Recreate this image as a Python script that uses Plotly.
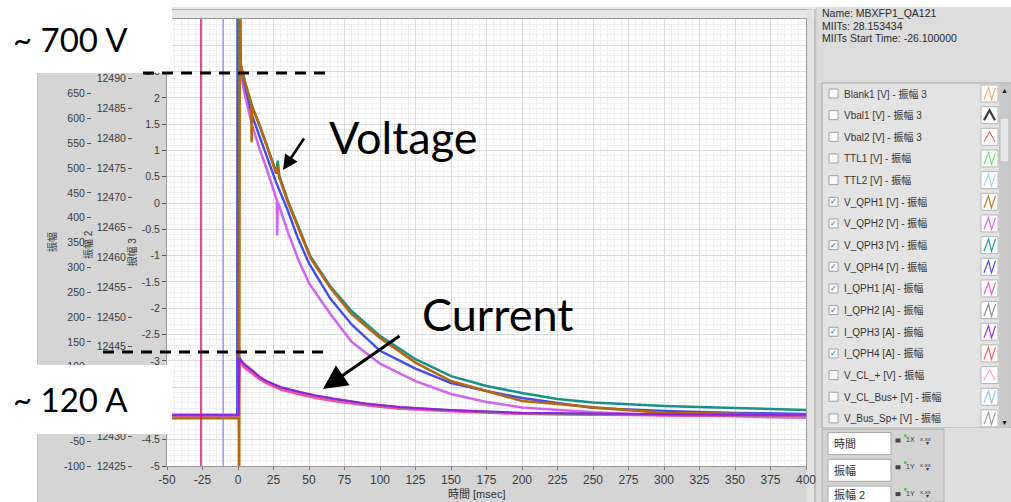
import plotly.graph_objects as go

W, H = 1011, 502


def px(x):
    return x / W


def py(y):
    return 1 - y / H


FONT = "Liberation Sans, Noto Sans CJK JP, sans-serif"
BIG = "Lato, Open Sans, sans-serif"

# ---------------- data ----------------
x_ticks = [-50, -25, 0, 25, 50, 75, 100, 125, 150, 175, 200, 225, 250, 275, 300, 325, 350, 375, 400]
amp_ticks = [-100, -50, 0, 50, 100, 150, 200, 250, 300, 350, 400, 450, 500, 550, 600, 650, 700, 750, 800]
amp2_ticks = [12425, 12430, 12435, 12440, 12445, 12450, 12455, 12460, 12465, 12470, 12475, 12480,
              12485, 12490, 12495, 12500]
amp3_ticks = [-5, -4.5, -4, -3.5, -3, -2.5, -2, -1.5, -1, -0.5, 0, 0.5, 1, 1.5, 2, 2.5, 3, 3.5]
# labels that sit completely under the white slide boxes in the reference (per axis)
amp_covered = [700, 750, 800, 0, 50]
amp2_covered = [12495, 12500, 12435, 12440]
amp3_covered = [3, 3.5, -3.5, -4]

cursor_times = [-26.1, -10.5]
cursor_colors = ["#d8157d", "#7468e6"]

# Voltages [V]
t_vqph2 = [-50, -0.3, 0.2, 1.2, 2, 5, 10, 15, 20, 27.3, 27.6, 28, 35, 42, 50, 65, 80, 100, 125, 150, 175,
           200, 250, 300, 350, 400]
v_vqph2 = [-3, -3, 950, 700, 690, 645, 585, 540, 500, 436, 364, 432, 372, 319, 268, 206, 150, 106, 71, 45,
           29, 18, 8, 2, 0, -3]

t_vqph4 = [-50, -0.5, -0.3, 1.2, 2, 5, 10, 15, 20, 27, 35, 42, 50, 65, 80, 100, 125, 150, 175, 200, 250,
           300, 350, 400]
v_vqph4 = [-2, -2, 950, 712, 700, 665, 605, 565, 525, 470, 415, 360, 308, 237, 185, 132, 96, 67, 51, 37, 17,
           11, 7, 5]

t_vqph3 = [-50, 0.4, 0.7, 1.5, 2, 5, 10, 15, 20, 27, 28, 29, 35, 42, 51, 65, 80, 100, 125, 150, 175, 200,
           225, 250, 300, 350, 400]
v_vqph3 = [-3, -3, 950, 712, 704, 672, 624, 586, 548, 490, 515, 485, 435, 386, 322, 262, 212, 162, 115, 81,
           61, 47, 35, 28, 21, 17, 13]

t_vqph1 = [-50, 0.6, 0.8, 1.3, 1.8, 2.2, 5, 9.5, 9.6, 9.8, 15, 20, 27, 28, 29, 35, 42, 51, 65, 80, 100, 125,
           150, 175, 200, 225, 250, 300, 350, 400]
v_vqph1 = [-4, -4, -220, 950, 715, 706, 672, 626, 552, 624, 588, 548, 489, 505, 482, 432, 383, 319, 259, 206,
           158, 108, 71, 51, 31, 25, 18, 7, 5, 3]

# Currents [A]
t_i = [-50, 0.5, 0.9, 1.4, 3, 5, 10, 15, 20, 30, 44, 55, 67, 90, 114, 150, 200, 250, 300, 350, 400]
i_qph4 = [1, 1, 112, 110, 104, 98, 87, 76, 68, 55, 45, 38, 32, 23, 16, 11, 5, 3, 2, 1, 1]
i_qph1 = [0, 0, 110, 108, 103, 97, 86, 75, 67, 54, 44, 37, 31, 22, 15, 10, 5, 3, 2, 1, 1]
i_qph2 = [2, 2, 120, 116, 110, 104, 93, 80, 71, 58, 48, 41, 35, 25, 18, 12, 6, 4, 3, 2, 2]
i_qph3 = [3, 3, 118, 115, 109, 103, 92, 80, 71, 59, 49, 42, 36, 26, 19, 13, 7, 5, 4, 3, 3]

# Channel list panel
legend_names = ["Blank1 [V] - 振幅 3", "Vbal1 [V] - 振幅 3", "Vbal2 [V] - 振幅 3", "TTL1 [V] - 振幅",
                "TTL2 [V] - 振幅", "V_QPH1 [V] - 振幅", "V_QPH2 [V] - 振幅", "V_QPH3 [V] - 振幅",
                "V_QPH4 [V] - 振幅", "I_QPH1 [A] - 振幅", "I_QPH2 [A] - 振幅", "I_QPH3 [A] - 振幅",
                "I_QPH4 [A] - 振幅", "V_CL_+ [V] - 振幅", "V_CL_Bus+ [V] - 振幅", "V_Bus_Sp+ [V] - 振幅"]
legend_checked = [0, 0, 0, 0, 0, 1, 1, 1, 1, 1, 1, 1, 1, 0, 0, 0]
legend_colors = ["#f2b07e", "#3a3a3a", "#f06868", "#7de07d", "#a8d4f4", "#c8741e", "#e060f0", "#20a090",
                 "#5050f0", "#ff5cb0", "#8a8a8a", "#a030e0", "#ff5a5a", "#ff9ad6", "#98c6f2", "#9a9a9a"]
legend_icon = ["N", "^", "^", "N", "N", "N", "N", "N", "N", "N", "N", "N", "N", "^", "N", "N"]

info_lines = ["Name: MBXFP1_QA121", "MIITs: 28.153434", "MIITs Start Time: -26.100000"]
axis_boxes = ["時間", "振幅", "振幅 2"]


def labels(vals, covered):
    return ["" if v in covered else "%g" % v for v in vals]


# ---------------- figure ----------------
fig = go.Figure()

# empty traces so that the two scale-only axes get drawn
fig.add_trace(go.Scatter(x=[], y=[], yaxis="y", showlegend=False, hoverinfo="skip"))
fig.add_trace(go.Scatter(x=[], y=[], yaxis="y2", showlegend=False, hoverinfo="skip"))


def add_series(t, v, color, width):
    fig.add_trace(go.Scatter(x=t, y=v, mode="lines", yaxis="y3", line=dict(color=color, width=width),
                             showlegend=False, hoverinfo="skip"))


add_series(t_vqph2, v_vqph2, "#d462f2", 2.5)
add_series(t_vqph4, v_vqph4, "#3f4cf0", 2.4)
add_series(t_vqph3, v_vqph3, "#14918a", 2.5)
add_series(t_vqph1, v_vqph1, "#b8660f", 2.6)
add_series(t_i, i_qph4, "#ff5a5a", 2.2)
add_series(t_i, i_qph1, "#ff4aa8", 2.4)
add_series(t_i, i_qph2, "#7a7a7a", 2.2)
add_series(t_i, i_qph3, "#8e22e0", 2)

tickfont = dict(family=FONT, size=10.5, color="#3a3a3a")

fig.update_layout(
    template="none",
    width=W, height=H, autosize=False,
    margin=dict(l=0, r=0, t=0, b=0, pad=0),
    paper_bgcolor="#d5d5d5", plot_bgcolor="#ffffff",
    showlegend=False,
    xaxis=dict(domain=[px(167), px(806)], range=[-50, 400], anchor="y", automargin=False,
               tickmode="array", tickvals=x_ticks, ticktext=[str(v) for v in x_ticks],
               ticks="outside", ticklen=3, tickcolor="#777",
               tickfont=dict(family=FONT, size=12, color="#3a3a3a"),
               showgrid=True, gridcolor="#dadada", gridwidth=1,
               minor=dict(tickmode="linear", tick0=0, dtick=5, showgrid=True, gridcolor="#efefef", ticks=""),
               showline=True, linecolor="#9a9a9a", mirror=True, zeroline=False),
    yaxis=dict(domain=[py(466), py(19)], range=[-5, 3.5], anchor="x", side="left", automargin=False,
               tickmode="array", tickvals=amp3_ticks, ticktext=labels(amp3_ticks, amp3_covered),
               ticks="outside", ticklen=4, tickcolor="#555", tickfont=tickfont,
               showgrid=True, gridcolor="#dadada",
               minor=dict(tickmode="linear", tick0=0, dtick=0.1, showgrid=True, gridcolor="#f0f0f0", ticks=""),
               showline=True, linecolor="#9a9a9a", mirror=True, zeroline=False),
    yaxis2=dict(range=[12425, 12500], overlaying="y", anchor="free", position=px(132), side="left",
                automargin=False,
                tickmode="array", tickvals=amp2_ticks, ticktext=labels(amp2_ticks, amp2_covered),
                ticks="outside", ticklen=4, tickcolor="#555", tickfont=tickfont,
                showgrid=False, zeroline=False, showline=False),
    yaxis3=dict(range=[-100, 800], overlaying="y", anchor="free", position=px(91), side="left",
                automargin=False,
                tickmode="array", tickvals=amp_ticks, ticktext=labels(amp_ticks, amp_covered),
                ticks="outside", ticklen=4, tickcolor="#555", tickfont=tickfont,
                showgrid=False, zeroline=False, showline=False),
)

shapes = []
ann = []


def rect(x0, y0, x1, y1, fill, line=None, lw=0, layer="above"):
    shapes.append(dict(type="rect", xref="paper", yref="paper", x0=px(x0), x1=px(x1), y0=py(y1), y1=py(y0),
                       fillcolor=fill, line=dict(color=line or fill, width=lw), layer=layer))


def hline(x0, x1, y, color, w=1, dash="solid", layer="above"):
    shapes.append(dict(type="line", xref="paper", yref="paper", x0=px(x0), x1=px(x1), y0=py(y), y1=py(y),
                       line=dict(color=color, width=w, dash=dash), layer=layer))


def vline(x, y0, y1, color, w=1, layer="above"):
    shapes.append(dict(type="line", xref="paper", yref="paper", x0=px(x), x1=px(x), y0=py(y0), y1=py(y1),
                       line=dict(color=color, width=w), layer=layer))


def text(x, y, s, size=10.5, color="#333", xanchor="left", family=FONT, angle=0):
    ann.append(dict(x=px(x), y=py(y), xref="paper", yref="paper", text=s, showarrow=False,
                    xanchor=xanchor, yanchor="middle", textangle=angle,
                    font=dict(family=family, size=size, color=color)))


# white slide background outside the screenshot
rect(0, 0, 37, 502, "#ffffff", layer="below")
rect(0, 0, 1011, 7, "#ffffff", layer="below")
vline(37.5, 7, 502, "#bdbdbd", layer="below")

# graph frame top bar and right bezel
rect(168, 7, 816, 18.5, "#e6e6e6", layer="below")
hline(168, 812, 9.5, "#b0b0b0", layer="below")
rect(806.5, 9.5, 814, 502, "#e2e2e2", layer="below")
vline(815, 9, 502, "#a8a8a8", layer="below")

# cursors
for ct, cc in zip(cursor_times, cursor_colors):
    shapes.append(dict(type="line", xref="x", yref="y domain", x0=ct, x1=ct, y0=0, y1=1,
                       line=dict(color=cc, width=1.5 if cc == cursor_colors[0] else 1), layer="above"))

# right info region
rect(817, 7, 1011, 83, "#dcdcdc")
for i, s in enumerate(info_lines):
    text(820, 13.5 + i * 12.2, s, size=10.5, color="#2a2a2a")

# channel list box
rect(822, 83, 1011, 428, "#e3e3e3", line="#a9a9a9", lw=1)
rect(999, 84, 1010, 427, "#c9c9c9")
rect(1000, 118, 1009, 162, "#e8e8e8", line="#b8b8b8", lw=1)
text(1004.5, 90, "▲", size=7, color="#111", xanchor="center")
text(1004.5, 422, "▼", size=7, color="#111", xanchor="center")

for i, name in enumerate(legend_names):
    yc = 93.5 + i * 21.66
    rect(829, yc - 4.5, 838, yc + 4.5, "#fbfbfb", line="#a0a0a0", lw=1)
    if legend_checked[i]:
        text(833.5, yc, "✓", size=8, color="#2850a8", xanchor="center", family="DejaVu Sans")
    text(842, yc, name, size=10, color="#333")
    rect(981, yc - 8.5, 998, yc + 8.5, "#ffffff", line="#b5b5b5", lw=1)
    c = legend_colors[i]
    if legend_icon[i] == "N":
        path = "M %f %f L %f %f L %f %f L %f %f" % (px(984), py(yc + 6), px(988.5), py(yc - 6),
                                                    px(991.5), py(yc + 6), px(995.5), py(yc - 6))
    else:
        path = "M %f %f L %f %f L %f %f" % (px(984), py(yc + 5), px(989.5), py(yc - 5), px(995), py(yc + 5))
    shapes.append(dict(type="path", xref="paper", yref="paper", path=path,
                       line=dict(color=c, width=2.2 if i == 1 else 1.2), layer="above"))

# axis control boxes
rect(817, 428, 1011, 502, "#dedede")
rect(822, 429, 944, 502, "#d3d3d3", line="#b0b0b0", lw=1)
for i, s in enumerate(axis_boxes):
    yc = 443.5 + i * 26.8
    rect(828, yc - 11, 891, yc + 11, "#ffffff", line="#a8a8a8", lw=1)
    text(832, min(yc, 494), s, size=11, color="#333")
    rect(895.5, yc - 5, 900.5, yc - 1, "#444")
    text(910, yc - 4, "1X" if i == 0 else "1Y", size=7, color="#333", xanchor="center")
    rect(904, yc - 9, 906.5, yc - 6.5, "#40d040")
    text(925, yc - 5, "x.xx", size=6, color="#333", xanchor="center")
    text(927, yc - 1, "▾", size=6, color="#333", xanchor="center")

# axis titles
text(51.5, 242.5, "振幅", size=10, color="#333", xanchor="center", angle=-90)
text(88, 245, "振幅 2", size=10, color="#333", xanchor="center", angle=-90)
text(131.5, 252, "振幅 3", size=10, color="#333", xanchor="center", angle=-90)
text(476, 494, "時間 [msec]", size=11, color="#333", xanchor="center")

# slide overlays
rect(0, 0, 172, 73, "#ffffff")
rect(0, 365, 172, 434, "#ffffff")
hline(143, 331, 73, "#000000", w=3, dash="11px,8px")
hline(103, 331, 352, "#000000", w=3, dash="11px,8px")

text(11, 39, "~ 700 V", size=33, color="#000", family=BIG)
text(11, 399, "~ 120 A", size=33, color="#000", family=BIG)
text(327, 137, "Voltage", size=45, color="#000", family=BIG)
text(420, 314, "Current", size=45, color="#000", family=BIG)

ann.append(dict(x=px(283), y=py(170), xref="paper", yref="paper", text="", showarrow=True,
                ax=22, ay=-33, arrowhead=2, arrowsize=1.15, arrowwidth=2.6, arrowcolor="#000", standoff=0))
ann.append(dict(x=px(323), y=py(389), xref="paper", yref="paper", text="", showarrow=True,
                ax=78, ay=-54, arrowhead=2, arrowsize=1.6, arrowwidth=3, arrowcolor="#000", standoff=0))

fig.update_layout(shapes=shapes, annotations=ann)

fig.write_html("out.html", config={"displayModeBar": False})
